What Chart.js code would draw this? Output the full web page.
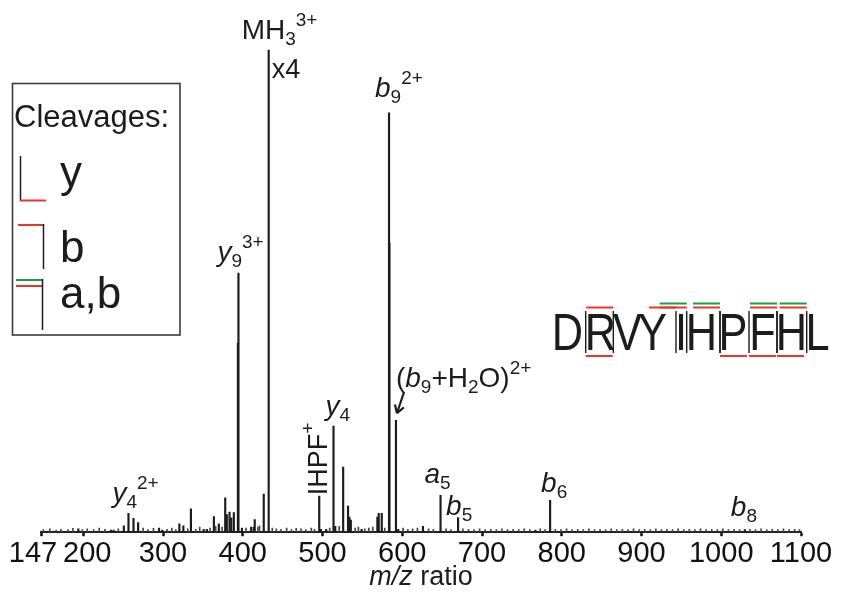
<!DOCTYPE html>
<html>
<head>
<meta charset="utf-8">
<script src="https://cdn.jsdelivr.net/npm/chart.js@4/dist/chart.umd.min.js"></script>
<style>
  html, body { margin: 0; padding: 0; background: #fff; }
  #wrap { width: 847px; height: 595px; }
</style>
</head>
<body>
<div id="wrap"><canvas id="chart" width="847" height="595"></canvas></div>
<script>
// MS/MS spectrum of DRVYIHPFHL, precursor MH3 3+ (scaled x4)
const peakMz = [193.8, 234.6, 238, 250.9, 256.7, 263, 268.8, 295, 299, 320.5, 325.5, 335,
  351, 355, 363.8, 370, 378, 380, 383.4, 385.6, 388.8, 393.9, 394.6, 399, 410.5, 413.8, 415,
  426.3, 432.5, 495.9, 498, 504.6, 513.8, 516, 525.9, 532, 533.8, 535.5, 549, 568.8, 570.5,
  574.3, 583.4, 583.9, 592.1, 595, 626, 648, 670, 767, 785.4, 1029.6];
const peakInt = [0.8, 0.5, 0.5, 1.5, 4.5, 3.3, 2.3, 1.0, 0.5, 2.0, 1.5, 5.6,
  0.7, 0.7, 3.7, 2.0, 8.2, 4.2, 4.8, 3.4, 4.7, 45.1, 61.8, 1.0, 1.2, 1.2, 3.0,
  9.1, 115, 8.6, 0.7, 0.7, 25.3, 1.4, 15.5, 6.2, 3.6, 2.9, 0.7, 3.6, 4.5,
  4.5, 100, 69, 26.7, 0.7, 1.4, 8.8, 3.5, 0.5, 7.6, 0.6];

// baseline grass
const noiseMz = [150, 158, 166, 172, 181, 187, 199, 205, 213, 220, 227, 244, 275, 281, 288,
  305, 311, 316, 331, 341, 346, 359, 366, 374, 404, 419, 421, 437, 442, 448, 455, 461, 467,
  473, 479, 486, 490, 509, 521, 541, 545, 553, 558, 563, 578, 601, 607, 613, 619, 633, 639,
  655, 661, 676, 683, 690, 697, 704, 711, 718, 725, 732, 739, 746, 753, 760, 773, 779, 792,
  799, 806, 813, 820, 827, 834, 841, 848, 855, 862, 869, 876, 883, 890, 897, 904, 911, 918,
  925, 932, 939, 946, 953, 960, 967, 974, 981, 988, 995, 1002, 1009, 1016, 1023, 1036, 1043,
  1050, 1057, 1064, 1071, 1078, 1085, 1092, 1098];
const noiseInt = [0.6, 0.8, 0.5, 0.7, 0.6, 0.9, 0.6, 0.8, 0.6, 1.0, 0.7, 0.8, 1.0, 0.6, 0.9,
  0.7, 1.0, 0.6, 0.8, 0.7, 1.2, 1.0, 1.4, 1.2, 1.0, 1.2, 1.5, 1.0, 0.8, 0.7, 1.0, 0.6, 0.9,
  0.8, 0.6, 1.0, 0.7, 1.0, 1.4, 1.0, 1.2, 0.8, 1.0, 1.2, 1.0, 1.0, 0.7, 0.8, 1.0, 0.8, 0.7,
  0.8, 0.6, 0.8, 0.7, 0.6, 0.8, 0.6, 0.7, 0.6, 0.8, 0.6, 0.7, 0.6, 0.8, 0.6, 0.8, 0.6, 0.7,
  0.6, 0.8, 0.6, 0.7, 0.6, 0.8, 0.6, 0.7, 0.6, 0.8, 0.6, 0.7, 0.6, 0.8, 0.6, 0.7, 0.6, 0.8,
  0.6, 0.7, 0.6, 0.8, 0.6, 0.7, 0.6, 0.8, 0.6, 0.7, 0.6, 0.8, 0.6, 0.7, 0.6, 0.7, 0.6,
  0.8, 0.6, 0.7, 0.6, 0.8, 0.6, 0.7, 0.6];

const tickValues = [147, 200, 300, 400, 500, 600, 700, 800, 900, 1000, 1100];

const sequence = ['D', 'R', 'V', 'Y', 'I', 'H', 'P', 'F', 'H', 'L'];

const FONT = '"Liberation Sans", Arial, Helvetica, sans-serif';
const INK = '#1c1c1c';
const RED = '#e8362c';
const GREEN = '#1f9a45';

function setFont(ctx, size, italic) {
  ctx.font = (italic ? 'italic ' : '') + size + 'px ' + FONT;
}

// runs: [text, kind] with kind n / i / sub / sup
function drawRuns(ctx, runs, x, y, size) {
  size = size || 28;
  for (const [s, kind] of runs) {
    let sz = size, off = 0, it = false;
    if (kind === 'i') it = true;
    if (kind === 'sub') { sz = 19; off = 6; }
    if (kind === 'sup') { sz = 19; off = -13; }
    setFont(ctx, sz, it);
    ctx.fillText(s, x, y + off);
    x += ctx.measureText(s).width;
  }
}

// fragment annotations, anchored on the top of their peak
const peakLabels = [
  { mz: 432.5, runs: [['MH', 'n'], ['3', 'sub'], ['3+', 'sup']], dx: -27, dy: -11 },
  { mz: 432.5, runs: [['x4', 'n']], dx: 3, dy: 28, size: 27 },
  { mz: 583.4, runs: [['b', 'i'], ['9', 'sub'], ['2+', 'sup']], dx: -14, dy: -16 },
  { mz: 394.6, runs: [['y', 'i'], ['9', 'sub'], ['3+', 'sup']], dx: -21, dy: -12 },
  { mz: 256.7, runs: [['y', 'i'], ['4', 'sub'], ['2+', 'sup']], dx: -16, dy: -11 },
  { mz: 513.8, runs: [['y', 'i'], ['4', 'sub']], dx: -8, dy: -11 },
  { mz: 592.1, runs: [['(', 'n'], ['b', 'i'], ['9', 'sub'], ['+H', 'n'], ['2', 'sub'], ['O)', 'n'], ['2+', 'sup']], dx: 0, dy: -33 },
  { mz: 648, runs: [['a', 'i'], ['5', 'sub']], dx: -16, dy: -12 },
  { mz: 670, runs: [['b', 'i'], ['5', 'sub']], dx: -12, dy: -3 },
  { mz: 785.4, runs: [['b', 'i'], ['6', 'sub']], dx: -9, dy: -8 },
  { mz: 1029.6, runs: [['b', 'i'], ['8', 'sub']], dx: -14, dy: -14 }
];

function line(ctx, x1, y1, x2, y2, color, w) {
  ctx.strokeStyle = color;
  ctx.lineWidth = w;
  ctx.beginPath();
  ctx.moveTo(x1, y1);
  ctx.lineTo(x2, y2);
  ctx.stroke();
}

const annotate = {
  id: 'annotate',
  afterDraw(chart) {
    const ctx = chart.ctx;
    const xs = chart.scales.x, ys = chart.scales.y;
    ctx.save();
    ctx.fillStyle = INK;
    ctx.textAlign = 'left';
    ctx.textBaseline = 'alphabetic';

    for (const lb of peakLabels) {
      const i = peakMz.indexOf(lb.mz);
      const px = xs.getPixelForValue(lb.mz);
      const py = ys.getPixelForValue(peakInt[i]);
      drawRuns(ctx, lb.runs, px + lb.dx, py + lb.dy, lb.size);
    }

    // internal fragment IHPF+, written upwards
    {
      const i = peakMz.indexOf(495.9);
      const px = xs.getPixelForValue(495.9);
      const py = ys.getPixelForValue(peakInt[i]);
      ctx.save();
      ctx.translate(px + 8, py - 1);
      ctx.rotate(-Math.PI / 2);
      drawRuns(ctx, [['IHPF', 'n'], ['+', 'sup']], 0, 0, 27);
      ctx.restore();
    }

    // arrow to (b9+H2O)2+
    {
      const i = peakMz.indexOf(592.1);
      const px = xs.getPixelForValue(592.1);
      const py = ys.getPixelForValue(peakInt[i]);
      const x1 = px + 8, y1 = py - 28, x2 = px + 1, y2 = py - 7;
      line(ctx, x1, y1, x2, y2, INK, 2.2);
      const a = Math.atan2(y2 - y1, x2 - x1);
      line(ctx, x2, y2, x2 - 9 * Math.cos(a - 0.55), y2 - 9 * Math.sin(a - 0.55), INK, 2.2);
      line(ctx, x2, y2, x2 - 9 * Math.cos(a + 0.55), y2 - 9 * Math.sin(a + 0.55), INK, 2.2);
    }

    // axis title
    {
      setFont(ctx, 27, true);
      const w1 = ctx.measureText('m/z').width;
      setFont(ctx, 27, false);
      const w2 = ctx.measureText(' ratio').width;
      const cx = (chart.chartArea.left + chart.chartArea.right) / 2;
      const x0 = cx - (w1 + w2) / 2;
      setFont(ctx, 27, true);
      ctx.fillText('m/z', x0, 585);
      setFont(ctx, 27, false);
      ctx.fillText(' ratio', x0 + w1, 585);
    }

    // cleavage key
    ctx.strokeStyle = '#3a3a3a';
    ctx.lineWidth = 1.6;
    ctx.strokeRect(12.5, 83.5, 167.5, 251.5);
    setFont(ctx, 31, false);
    ctx.fillText('Cleavages:', 14, 127);
    line(ctx, 20.5, 156, 20.5, 201, INK, 1.5);
    line(ctx, 20, 200.5, 46, 200.5, RED, 2);
    line(ctx, 18, 225, 44, 225, RED, 2);
    line(ctx, 43.5, 224, 43.5, 269, INK, 1.5);
    line(ctx, 16, 280, 43, 280, GREEN, 2);
    line(ctx, 16, 286, 43, 286, RED, 2);
    line(ctx, 42.5, 279, 42.5, 330, INK, 1.5);
    setFont(ctx, 44, false);
    ctx.fillText('y', 60, 187);
    ctx.fillText('b', 60, 262);
    ctx.fillText('a,b', 60, 308);

    // peptide sequence with observed cleavages
    const letterX = [567.5, 600.5, 627.5, 652.5, 681, 701.5, 733, 762.5, 791.5, 817.5];
    ctx.textAlign = 'center';
    for (let k = 0; k < sequence.length; k++) {
      ctx.save();
      ctx.translate(letterX[k], 349.5);
      ctx.scale(0.85, 1);
      setFont(ctx, 51, false);
      ctx.fillText(sequence[k], 0, 0);
      ctx.restore();
    }
    const sepX = { 1: 585.7, 2: 613.3, 4: 676, 5: 686.7, 6: 720, 7: 749, 8: 777, 9: 806.7 };
    const cuts = [[1, 'y'], [2, 'b'], [4, 'b'], [5, 'ab'], [6, 'ab'], [6, 'y'], [7, 'y'],
      [8, 'ab'], [8, 'y'], [9, 'ab']];
    const L = 27;
    for (const [s, t] of cuts) {
      const x = sepX[s];
      line(ctx, x, 311, x, 353, INK, 1.4);
      if (t === 'y') {
        line(ctx, x, 356, x + L, 356, RED, 2);
      } else {
        line(ctx, x - L, 307.5, x, 307.5, RED, 2);
        if (t === 'ab') line(ctx, x - L, 303.5, x, 303.5, GREEN, 2);
      }
    }
    ctx.restore();
  }
};

const ctx = document.getElementById('chart').getContext('2d');
new Chart(ctx, {
  type: 'bar',
  data: {
    datasets: [{
      data: noiseMz.map((m, i) => ({ x: m, y: noiseInt[i] })),
      backgroundColor: '#444',
      barThickness: 1,
      grouped: false
    }, {
      data: peakMz.map((m, i) => ({ x: m, y: peakInt[i] })),
      backgroundColor: INK,
      barThickness: 1.5,
      grouped: false
    }]
  },
  options: {
    responsive: false,
    animation: false,
    layout: { padding: { left: 41, right: 46, top: 29, bottom: 24 } },
    plugins: { legend: { display: false }, tooltip: { enabled: false } },
    scales: {
      x: {
        type: 'linear',
        min: 147,
        max: 1100,
        offset: false,
        border: { display: true, width: 2, color: '#222' },
        grid: { display: true, offset: false, drawOnChartArea: false, drawTicks: true, tickLength: 4, tickWidth: 2.5, tickColor: '#111' },
        afterBuildTicks: (scale) => { scale.ticks = tickValues.map(v => ({ value: v })); },
        ticks: {
          autoSkip: false,
          maxRotation: 0,
          minRotation: 0,
          padding: 0,
          color: '#111',
          font: { family: FONT, size: 29 },
          callback: (v) => v === 147 ? '147  ' : (v === 200 ? ' 200' : String(v))
        }
      },
      y: { display: false, min: 0, max: 120 }
    }
  },
  plugins: [annotate]
});
</script>
</body>
</html>
